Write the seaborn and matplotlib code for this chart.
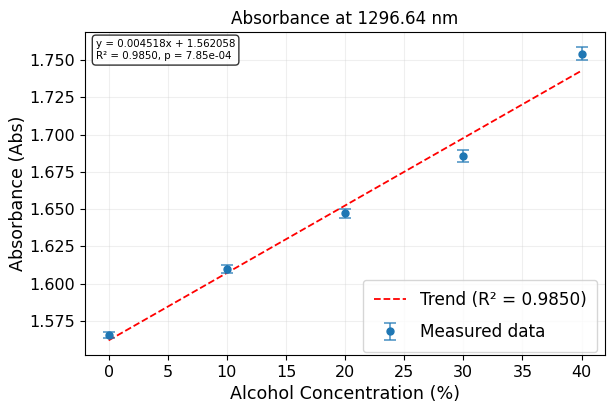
import numpy as np
import pandas as pd
import matplotlib
matplotlib.use("Agg")
import matplotlib.pyplot as plt
import seaborn as sns

# Data
concentration = [0, 10, 20, 30, 40]
absorbance = [1.5658, 1.6098, 1.6472, 1.6858, 1.7542]
abs_err = [0.0020, 0.0025, 0.0030, 0.0040, 0.0045]
slope = 0.004518
intercept = 1.562058
r_squared = 0.9850
p_value = 7.85e-04
title = "Absorbance at 1296.64 nm"
x_label = "Alcohol Concentration (%)"
y_label = "Absorbance (Abs)"

sns.set_style("ticks")
plt.rcParams['font.family'] = ['DejaVu Sans']
plt.rcParams.update({"text.color": "black", "axes.labelcolor": "black",
                     "xtick.color": "black", "ytick.color": "black",
                     "xtick.labelcolor": "black", "ytick.labelcolor": "black"})

fig, ax = plt.subplots(figsize=(6.07, 4.03), dpi=100)
fig.subplots_adjust(left=0.14, right=0.997, top=0.92, bottom=0.119)

trend_df = pd.DataFrame({"x": concentration,
                         "y": [slope * c + intercept for c in concentration]})
sns.lineplot(data=trend_df, x="x", y="y", ax=ax, color="red", linestyle="--",
             linewidth=1.3, label=f"Trend (R² = {r_squared:.4f})")

ax.errorbar(concentration, absorbance, yerr=abs_err, fmt="o", color="#1f77b4",
            ecolor=(0.12, 0.47, 0.71, 0.7), elinewidth=1.3, capsize=4.5,
            capthick=1.3, markersize=5, label="Measured data")

ax.set_title(title, fontsize=12.1, color="black")
ax.set_xlabel(x_label, fontsize=12.6)
ax.set_ylabel(y_label, fontsize=12.6, labelpad=2)
ax.tick_params(labelsize=11.5, colors="black")
ax.grid(True, alpha=0.3)
ax.set_xticks(np.arange(0, 45, 5))
ax.yaxis.set_major_formatter(matplotlib.ticker.FormatStrFormatter("%.3f"))
for s in ax.spines.values():
    s.set_color("black")
    s.set_linewidth(0.8)

ax.text(0.021, 0.98, f"y = {slope:.6f}x + {intercept:.6f}\nR² = {r_squared:.4f}, p = {p_value:.2e}",
        transform=ax.transAxes, fontsize=7.4, va="top", ha="left", linespacing=1.35,
        bbox=dict(boxstyle="round,pad=0.35", facecolor="white", edgecolor="black", alpha=0.8))

leg = ax.legend(loc="lower right", bbox_to_anchor=(0.985, 0.009), fontsize=12.2,
                framealpha=0.8, labelspacing=0.85, borderpad=0.65, borderaxespad=0,
                handlelength=1.9)

fig.savefig("out.png", dpi=100)
